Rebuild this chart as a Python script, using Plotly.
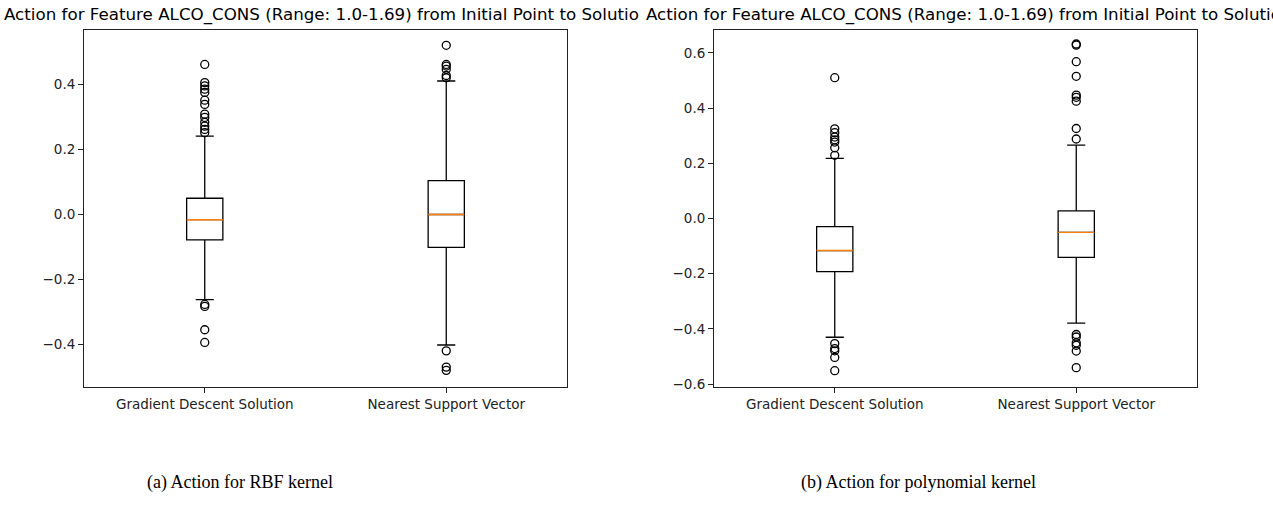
import plotly.graph_objects as go

W, H = 1273, 520

CATEGORIES = ["Gradient Descent Solution", "Nearest Support Vector"]
POSITIONS = [1, 2]
TITLE = "Action for Feature ALCO_CONS (Range: 1.0-1.69) from Initial Point to Solutio"
CAPTIONS = ["(a) Action for RBF kernel", "(b) Action for polynomial kernel"]

# box statistics: [gradient descent, nearest support vector]
RBF_Q1 = [-0.078, -0.101]
RBF_MED = [-0.016, 0.0]
RBF_Q3 = [0.050, 0.104]
RBF_LO = [-0.262, -0.402]
RBF_HI = [0.241, 0.411]
RBF_OUT_GD = [0.462, 0.406, 0.396, 0.386, 0.376, 0.352, 0.339, 0.309, 0.299,
              0.284, 0.272, 0.262, 0.252, -0.277, -0.283, -0.355, -0.394]
RBF_OUT_NSV = [0.521, 0.462, 0.457, 0.447, 0.428, 0.421, -0.420, -0.470, -0.480]

POLY_Q1 = [-0.192, -0.141]
POLY_MED = [-0.116, -0.050]
POLY_Q3 = [-0.029, 0.028]
POLY_LO = [-0.430, -0.379]
POLY_HI = [0.218, 0.266]
POLY_OUT_GD = [0.510, 0.325, 0.311, 0.295, 0.285, 0.277, 0.256, 0.229,
               -0.453, -0.471, -0.479, -0.503, -0.551]
POLY_OUT_NSV = [0.632, 0.628, 0.568, 0.515, 0.447, 0.439, 0.425, 0.326, 0.288,
                -0.420, -0.429, -0.450, -0.459, -0.480, -0.540]

RBF_TICKS = [-0.4, -0.2, 0.0, 0.2, 0.4]
POLY_TICKS = [-0.6, -0.4, -0.2, 0.0, 0.2, 0.4, 0.6]
RBF_RANGE = [-0.532, 0.569]
POLY_RANGE = [-0.611, 0.682]

BOX_W = 0.15
INK = "#000000"
MEDIAN = "#ff7f0e"
SANS = "DejaVu Sans"


def px(x):
    return x / W


def py(y):
    return 1 - y / H


fig = go.Figure()

panels = [
    ("x", "y", RBF_Q1, RBF_MED, RBF_Q3, RBF_LO, RBF_HI, [RBF_OUT_GD, RBF_OUT_NSV]),
    ("x2", "y2", POLY_Q1, POLY_MED, POLY_Q3, POLY_LO, POLY_HI, [POLY_OUT_GD, POLY_OUT_NSV]),
]

for xa, ya, q1, med, q3, lo, hi, outs in panels:
    fig.add_trace(go.Box(
        x=POSITIONS, q1=q1, median=med, q3=q3, lowerfence=lo, upperfence=hi,
        width=BOX_W, whiskerwidth=0.5, fillcolor="rgba(0,0,0,0)",
        line=dict(color=INK, width=1.3), xaxis=xa, yaxis=ya, showlegend=False,
    ))
    # matplotlib draws the median in orange over the black box
    for p, m in zip(POSITIONS, med):
        fig.add_trace(go.Scatter(
            x=[p - BOX_W / 2, p + BOX_W / 2], y=[m, m], mode="lines",
            line=dict(color=MEDIAN, width=1.4), xaxis=xa, yaxis=ya, showlegend=False,
        ))
    for p, vals in zip(POSITIONS, outs):
        fig.add_trace(go.Scatter(
            x=[p] * len(vals), y=vals, mode="markers",
            marker=dict(symbol="circle-open", size=8, color=INK, line=dict(width=1.3)),
            xaxis=xa, yaxis=ya, showlegend=False,
        ))

axis_common = dict(
    showline=True, mirror=True, linecolor="#222", linewidth=1, showgrid=False,
    zeroline=False, ticks="outside", ticklen=5, tickwidth=1, tickcolor="#222",
    tickfont=dict(family=SANS, size=13.5, color="#222"),
)

fig.update_layout(
    width=W, height=H,
    margin=dict(l=0, r=0, t=0, b=0),
    paper_bgcolor="white", plot_bgcolor="white",
    xaxis=dict(domain=[px(84), px(567)], range=[0.5, 2.5], tickvals=POSITIONS,
               ticktext=CATEGORIES, anchor="y", **axis_common),
    yaxis=dict(domain=[py(391), py(30)], range=RBF_RANGE, tickvals=RBF_TICKS,
               tickformat=".1f", anchor="x", **axis_common),
    xaxis2=dict(domain=[px(714), px(1197)], range=[0.5, 2.5], tickvals=POSITIONS,
                ticktext=CATEGORIES, anchor="y2", **axis_common),
    yaxis2=dict(domain=[py(391), py(30.5)], range=POLY_RANGE, tickvals=POLY_TICKS,
                tickformat=".1f", anchor="x2", **axis_common),
    annotations=[
        dict(text=TITLE, x=px(2), y=py(15), xref="paper", yref="paper",
             xanchor="left", yanchor="middle", showarrow=False,
             font=dict(family=SANS, size=16.7, color=INK)),
        dict(text=TITLE, x=px(644), y=py(15), xref="paper", yref="paper",
             xanchor="left", yanchor="middle", showarrow=False,
             font=dict(family=SANS, size=16.7, color=INK)),
        dict(text=CAPTIONS[0], x=px(240), y=py(487), xref="paper", yref="paper",
             xanchor="center", yanchor="middle", showarrow=False,
             font=dict(family="Liberation Serif", size=18, color=INK)),
        dict(text=CAPTIONS[1], x=px(918), y=py(487), xref="paper", yref="paper",
             xanchor="center", yanchor="middle", showarrow=False,
             font=dict(family="Liberation Serif", size=18, color=INK)),
    ],
)

# drop the browser's default body margin so the figure fills the window
fig.write_html("out.html", config={"displayModeBar": False},
               post_script="document.body.style.margin = '0';")
